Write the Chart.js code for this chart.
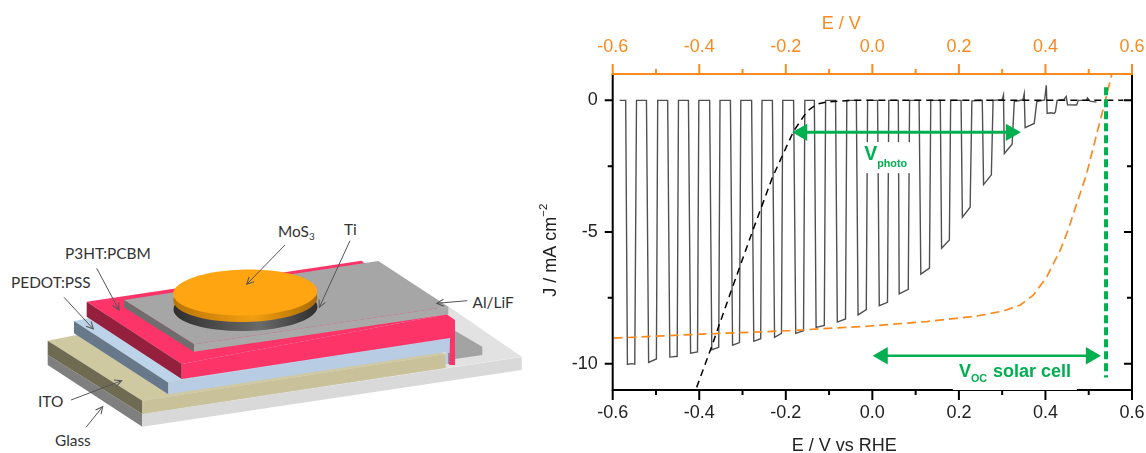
<!DOCTYPE html>
<html>
<head>
<meta charset="utf-8">
<title>MoS3 on P3HT:PCBM photocathode</title>
<script src="https://cdn.jsdelivr.net/npm/chart.js@4/dist/chart.umd.min.js"></script>
<style>
  html, body { margin: 0; padding: 0; background: #fff; }
  body { width: 1146px; height: 453px; position: relative; overflow: hidden; }
  #device { position: absolute; left: 0; top: 0; }
  #device text { font-family: Lato, "Open Sans", sans-serif; font-size: 15.4px; fill: #333; }
  #plot { position: absolute; left: 530px; top: 0; width: 616px; height: 453px; }
</style>
</head>
<body>

<!-- device stack, left panel: an illustration, not data -->
<svg id="device" width="530" height="453" viewBox="0 0 530 453">
  <defs>
    <linearGradient id="tiSide" x1="0" x2="1" y1="0" y2="0">
      <stop offset="0" stop-color="#2e2e2e"/><stop offset="0.6" stop-color="#6a6a6a"/><stop offset="1" stop-color="#2e2e2e"/>
    </linearGradient>
    <linearGradient id="goldSide" x1="0" x2="1" y1="0" y2="0">
      <stop offset="0" stop-color="#b97508"/><stop offset="0.55" stop-color="#f29e10"/><stop offset="1" stop-color="#a96c08"/>
    </linearGradient>
    <marker id="head" markerWidth="9" markerHeight="9" refX="8" refY="4" orient="auto" markerUnits="userSpaceOnUse">
      <path d="M1 0.5 L8 4 L1 7.5" fill="none" stroke="#555" stroke-width="1"/>
    </marker>
  </defs>

  <!-- glass -->
  <polygon points="47.7,345 142.3,414 521.7,356.7 448,306 300,320 80,340" fill="#e2e2e2"/>
  <polygon points="47.7,355 142.3,414 142.3,426.7 47.7,365" fill="#7f7f7f"/>
  <polygon points="142.3,414 521.7,357 521.7,370 142.3,426.7" fill="#d9d9d9"/>
  <!-- aluminium back pad -->
  <polygon points="455,330.7 482.3,346.7 482.3,355 455,359" fill="#a3a3a3"/>
  <!-- ITO -->
  <polygon points="47.7,340.7 142.3,400.7 445.7,354 350,320 76.7,335" fill="#cfc9a2"/>
  <polygon points="47.7,340.7 142.3,400.7 142.3,414 47.7,355" fill="#6f6b52"/>
  <polygon points="142.3,400.7 445.7,354 445.7,368 142.3,414" fill="#c9c19a"/>
  <!-- PEDOT:PSS -->
  <polygon points="74,321 168.3,382.7 450,339 380,300 100,316" fill="#bdd3ea"/>
  <polygon points="74,321 168.3,382.7 168.3,394.3 74,333.3" fill="#66788a"/>
  <polygon points="168.3,382.7 450,338 450,364 445.7,364 445.7,352 168.3,394.3" fill="#b8cce4"/>
  <line x1="449" y1="353" x2="449" y2="364" stroke="#46596b" stroke-width="1"/>
  <!-- P3HT:PCBM -->
  <polygon points="86.7,301.7 361.7,260.7 364,263 446.7,314.3 181.7,364" fill="#fc3468"/>
  <polygon points="86.7,301.7 181.7,364 181.7,379 86.7,316.7" fill="#95203e"/>
  <polygon points="181.7,364 446.7,314.3 455,320 455,365 449.3,365 450,338 181.7,379" fill="#fc3468"/>
  <!-- Al/LiF -->
  <polygon points="124,300 378.3,261 448.3,306.7 194,344.3" fill="#a6a6a6"/>
  <polygon points="124,300 194,344.3 194,351.7 124,307.3" fill="#6e6e6e"/>
  <polygon points="194,344.3 448.3,306.7 448.3,314.3 194,351.7" fill="#a9a9a9"/>
  <!-- Ti and MoS3 discs -->
  <g transform="rotate(-1.2 245 300)">
    <ellipse cx="245.3" cy="308" rx="72" ry="23" fill="url(#tiSide)"/>
    <ellipse cx="245.3" cy="299" rx="72" ry="23" fill="url(#goldSide)"/>
    <ellipse cx="245.3" cy="292.5" rx="72" ry="23" fill="#ffa511"/>
  </g>

  <g stroke="#555" stroke-width="1" fill="none">
    <line x1="285" y1="245" x2="246.7" y2="284.3" marker-end="url(#head)"/>
    <line x1="350" y1="240.7" x2="319.3" y2="307.3" marker-end="url(#head)"/>
    <line x1="467.3" y1="300.7" x2="436.7" y2="303.3" marker-end="url(#head)"/>
    <line x1="96.7" y1="268.3" x2="119" y2="310" marker-end="url(#head)"/>
    <line x1="64" y1="297.3" x2="93.3" y2="329" marker-end="url(#head)"/>
    <line x1="71" y1="400" x2="121.7" y2="380.7" marker-end="url(#head)"/>
    <line x1="86" y1="427.3" x2="102.7" y2="406.7" marker-end="url(#head)"/>
  </g>

  <text x="278" y="236.5">MoS<tspan font-size="10" dy="3">3</tspan></text>
  <text x="344" y="235">Ti</text>
  <text x="472.5" y="308">Al/LiF</text>
  <text x="65" y="259">P3HT:PCBM</text>
  <text x="11" y="288">PEDOT:PSS</text>
  <text x="38" y="406.5">ITO</text>
  <text x="55" y="446">Glass</text>
</svg>

<div id="plot"><canvas id="chart" width="616" height="453"></canvas></div>

<script>
// chopped-light scan
const chopE = [
  -0.584, -0.570, -0.566, -0.557, -0.549, -0.545,
  -0.522, -0.517, -0.499, -0.496,
  -0.473, -0.468, -0.451, -0.448,
  -0.425, -0.420, -0.404, -0.401,
  -0.376, -0.371, -0.355, -0.352,
  -0.328, -0.323, -0.307, -0.304,
  -0.279, -0.274, -0.258, -0.255,
  -0.231, -0.226, -0.210, -0.207,
  -0.182, -0.177, -0.159, -0.156,
  -0.134, -0.130, -0.111, -0.108,
  -0.085, -0.081, -0.062, -0.059,
  -0.037, -0.033, -0.014, -0.011,
  0.012, 0.016, 0.035, 0.038,
  0.060, 0.062, 0.083, 0.086,
  0.108, 0.112, 0.132, 0.135,
  0.157, 0.160, 0.178, 0.181,
  0.205, 0.208, 0.226, 0.230,
  0.254, 0.257, 0.275, 0.279,
  0.300, 0.303, 0.305, 0.323, 0.328,
  0.348, 0.351, 0.353, 0.374, 0.380,
  0.398, 0.402, 0.404, 0.412, 0.420, 0.423, 0.427,
  0.442, 0.448, 0.451, 0.472, 0.476,
  0.495, 0.497, 0.503, 0.518
];
const chopJ = [
  0, 0, -10.03, -10.0, -10.02, 0,
  0, -9.95, -9.82, 0,
  0, -9.75, -9.72, 0,
  0, -9.6, -9.55, 0,
  0, -9.47, -9.38, 0,
  0, -9.3, -9.2, 0,
  0, -9.15, -9.05, 0,
  0, -9.0, -8.85, 0,
  0, -8.85, -8.75, 0,
  0, -8.62, -8.55, 0,
  0, -8.42, -8.3, 0,
  0, -8.15, -7.95, 0,
  0, -7.8, -7.67, 0,
  0, -7.35, -7.18, 0,
  0, -6.6, -6.37, 0,
  0, -5.62, -5.3, 0,
  0, -4.44, -4.06, -0.02,
  0, -3.2, -2.83, 0,
  0.02, 0.2, -2.02, -1.67, -0.05,
  0.02, 0.25, -1.04, -0.88, -0.05,
  0.02, 0.57, -0.5, -0.47, -0.5, -0.44, 0,
  0.02, 0.15, -0.17, -0.18, 0,
  0, 0.09, -0.03, -0.07
];

// dark current (black dashed)
const darkE = [-0.406, -0.374, -0.328, -0.278, -0.231, -0.182, -0.151, -0.128, -0.105, -0.05, 0.58];
const darkJ = [-10.9, -9.47, -7.32, -5.02, -2.93, -1.17, -0.42, -0.14, -0.06, 0, 0];

// solar cell curve on the top axis (orange dashed)
const cellE = [-0.598, -0.397, -0.197, -0.005, 0.126, 0.242, 0.303, 0.342, 0.372, 0.403, 0.434, 0.452, 0.472, 0.495, 0.522, 0.538, 0.553];
const cellJ = [-9.03, -8.88, -8.75, -8.57, -8.40, -8.19, -8.0, -7.77, -7.4, -6.7, -5.7, -4.94, -3.94, -2.8, -1.05, -0.04, 0.97];

// Voc marker and the two double arrows
const vocLineE = [0.54, 0.54];
const vocLineJ = [0.5, -10.53];
const photoArrowE = [-0.162, 0.320];
const photoArrowJ = [-1.215, -1.215];
const cellArrowE = [0.024, 0.505];
const cellArrowJ = [-9.7, -9.7];

// axes
const xMajor = [-0.6, -0.4, -0.2, 0, 0.2, 0.4, 0.6];
const xMinor = [-0.5, -0.3, -0.1, 0.1, 0.3, 0.5];
const yMajor = [0, -5, -10];
const yMinor = [-2.5, -7.5];

const ORANGE = "#f98a1e";
const GREEN = "#00b050";
const FONT = "'Liberation Sans', Arial, sans-serif";

function pts(xs, ys) {
    return xs.map((x, i) => ({ x: x, y: ys[i] }));
}

function lineSet(xs, ys, color, width, dash, extra) {
    return Object.assign({
        data: pts(xs, ys),
        borderColor: color,
        backgroundColor: color,
        borderWidth: width,
        borderDash: dash,
        pointRadius: 0,
        tension: 0,
        showLine: true,
    }, extra || {});
}

// both arrow heads sit on the data ends of the line
function arrowSet(xs, ys, width) {
    return lineSet(xs, ys, GREEN, width, [], {
        pointStyle: "triangle",
        pointRadius: 10,
        pointBorderWidth: 0,
        pointRotation: [-90, 90],
        pointBackgroundColor: GREEN,
    });
}

const frameAndLabels = {
    id: "frameAndLabels",
    afterDatasetsDraw(chart) {
        const ctx = chart.ctx;
        const a = chart.chartArea;
        const sx = chart.scales.x;
        const sy = chart.scales.y;
        ctx.save();

        // frame
        ctx.lineWidth = 2;
        ctx.strokeStyle = "#000";
        ctx.beginPath();
        ctx.moveTo(a.left, a.top);
        ctx.lineTo(a.left, a.bottom);
        ctx.lineTo(a.right, a.bottom);
        ctx.lineTo(a.right, a.top);
        ctx.stroke();
        ctx.strokeStyle = ORANGE;
        ctx.beginPath();
        ctx.moveTo(a.left - 1, a.top);
        ctx.lineTo(a.right + 1, a.top);
        ctx.stroke();

        // ticks: bottom and top outwards, left outwards, right inwards
        function xTicks(vals, len) {
            vals.forEach((v) => {
                const px = sx.getPixelForValue(v);
                ctx.strokeStyle = "#000";
                ctx.beginPath();
                ctx.moveTo(px, a.bottom);
                ctx.lineTo(px, a.bottom + len);
                ctx.stroke();
                ctx.strokeStyle = ORANGE;
                ctx.beginPath();
                ctx.moveTo(px, a.top);
                ctx.lineTo(px, a.top - len);
                ctx.stroke();
            });
        }
        function yTicks(vals, len) {
            ctx.strokeStyle = "#000";
            vals.forEach((v) => {
                const py = sy.getPixelForValue(v);
                ctx.beginPath();
                ctx.moveTo(a.left - len, py);
                ctx.lineTo(a.left, py);
                ctx.moveTo(a.right - len, py);
                ctx.lineTo(a.right, py);
                ctx.stroke();
            });
        }
        xTicks(xMajor, 10);
        xTicks(xMinor, 5);
        yTicks(yMajor, 8);
        yTicks(yMinor, 5);

        // axis titles sit off centre in the original, so they go here
        ctx.textAlign = "left";
        ctx.textBaseline = "alphabetic";
        ctx.font = "18px " + FONT;
        ctx.fillStyle = ORANGE;
        ctx.fillText("E / V", 291.7, 29.3);
        ctx.fillStyle = "#222";
        ctx.fillText("E / V vs RHE", 261.7, 450.7);
        ctx.save();
        ctx.translate(26, 296.7);
        ctx.rotate(-Math.PI / 2);
        ctx.fillText("J / mA cm", 0, 0);
        ctx.font = "11.5px " + FONT;
        ctx.fillText("−2", 80, -9);
        ctx.restore();

        // V photo label on its white patch
        let px = sx.getPixelForValue(-0.019);
        let py = sy.getPixelForValue(-2.27);
        ctx.fillStyle = "#fff";
        ctx.fillRect(px - 4, py - 18, 50, 31);
        ctx.fillStyle = GREEN;
        ctx.font = "bold 19.5px " + FONT;
        ctx.fillText("V", px, py);
        ctx.font = "bold 10.8px " + FONT;
        ctx.fillText("photo", px + 13, py + 7);

        // V oc label; its white patch stops halfway through the bottom axis
        px = sx.getPixelForValue(0.2);
        py = sy.getPixelForValue(-10.5);
        ctx.fillStyle = "#fff";
        ctx.fillRect(px - 6, py - 19, 124, a.bottom - py + 19);
        // the patch cuts the arrow shaft a little, redraw what stays
        ctx.strokeStyle = GREEN;
        ctx.lineWidth = 1.5;
        const arrowY = sy.getPixelForValue(cellArrowJ[0]);
        ctx.beginPath();
        ctx.moveTo(px - 6, arrowY);
        ctx.lineTo(px + 118, arrowY);
        ctx.stroke();
        ctx.fillStyle = GREEN;
        ctx.font = "bold 18px " + FONT;
        ctx.fillText("V", px, py);
        ctx.fillText("solar cell", px + 34, py);
        ctx.font = "bold 10.8px " + FONT;
        ctx.fillText("OC", px + 12, py + 5.5);

        ctx.restore();
    },
};

new Chart(document.getElementById("chart"), {
    type: "scatter",
    data: {
        datasets: [
            arrowSet(photoArrowE, photoArrowJ, 3),
            arrowSet(cellArrowE, cellArrowJ, 2.5),
            lineSet(vocLineE, vocLineJ, GREEN, 4, [8, 4]),
            lineSet(cellE, cellJ, ORANGE, 1.7, [9, 5]),
            lineSet(darkE, darkJ, "#000", 1.5, [7, 5]),
            lineSet(chopE, chopJ, "#505050", 1.4, []),
        ],
    },
    plugins: [frameAndLabels],
    options: {
        responsive: false,
        animation: false,
        events: [],
        layout: { padding: { left: 4, right: 14, top: 0, bottom: 0 } },
        plugins: { legend: { display: false }, tooltip: { enabled: false } },
        scales: {
            x: {
                type: "linear",
                position: "bottom",
                min: -0.6,
                max: 0.6,
                grid: { display: false },
                border: { display: false },
                afterFit(scale) {
                    scale.height = 63;
                    scale.paddingLeft = 0;
                    scale.paddingRight = 0;
                },
                ticks: {
                    stepSize: 0.2,
                    maxRotation: 0,
                    autoSkip: false,
                    padding: 4,
                    color: "#222",
                    font: { family: FONT, size: 18 },
                    callback: (v) => v.toFixed(1),
                },
            },
            x2: {
                type: "linear",
                position: "top",
                min: -0.6,
                max: 0.6,
                grid: { display: false },
                border: { display: false },
                afterFit(scale) {
                    scale.height = 74;
                    scale.paddingLeft = 0;
                    scale.paddingRight = 0;
                },
                ticks: {
                    stepSize: 0.2,
                    maxRotation: 0,
                    autoSkip: false,
                    padding: 8,
                    color: ORANGE,
                    font: { family: FONT, size: 18 },
                    callback: (v) => v.toFixed(1),
                },
            },
            y: {
                type: "linear",
                position: "left",
                min: -11,
                max: 1,
                grid: { display: false },
                border: { display: false },
                afterFit(scale) {
                    scale.width = 78.7;
                },
                ticks: {
                    stepSize: 5,
                    includeBounds: false,
                    padding: 7,
                    color: "#222",
                    font: { family: FONT, size: 18 },
                    callback: (v) => String(v),
                },
            },
        },
    },
});
</script>
</body>
</html>
